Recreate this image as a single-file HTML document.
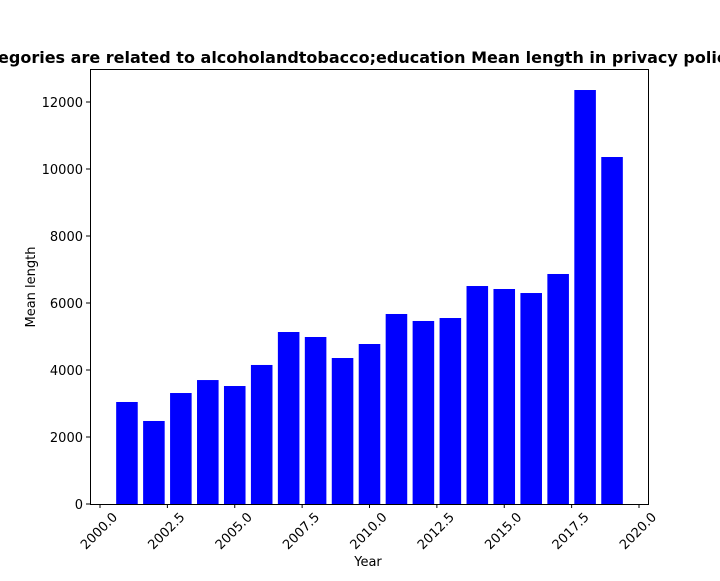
<!DOCTYPE html>
<html><head><meta charset="utf-8"><style>
body{margin:0;background:#fff;width:720px;height:576px;overflow:hidden}
svg text{font-family:"DejaVu Sans","Liberation Sans",sans-serif}
</style></head><body>
<svg id="chart" width="720" height="576">
<text x="360" y="63" text-anchor="middle" font-size="16" font-weight="bold">Categories are related to alcoholandtobacco;education Mean length in privacy policies</text>
<g id="bars"></g>
<rect x="90.5" y="69.5" width="558" height="435" fill="none" stroke="#000" stroke-width="1"/>
<g id="xt"></g><g id="yt"></g>
<text x="368" y="566" text-anchor="middle" font-size="13">Year</text>
<text transform="translate(35,287) rotate(-90)" text-anchor="middle" font-size="13">Mean length</text>
</svg>
<script>
const years=[2001,2002,2003,2004,2005,2006,2007,2008,2009,2010,2011,2012,2013,2014,2015,2016,2017,2018,2019];
const values=[3045,2478,3313,3700,3522,4150,5134,4985,4358,4776,5672,5463,5552,6507,6418,6298,6866,12358,10358];
const xTicks=[2000,2002.5,2005,2007.5,2010,2012.5,2015,2017.5,2020];
const yTicks=[0,2000,4000,6000,8000,10000,12000];
const NS="http://www.w3.org/2000/svg";
const sx=v=>100+(v-2000)*26.95;
const sy=v=>504-v*0.0335;
const bars=document.getElementById('bars');
years.forEach((y,i)=>{
 const r=document.createElementNS(NS,'rect');
 r.setAttribute('x',sx(y-0.4));r.setAttribute('width',0.8*26.95);
 r.setAttribute('y',sy(values[i]));r.setAttribute('height',504-sy(values[i]));
 r.setAttribute('fill','#0000ff');
 
 
 bars.appendChild(r);
});
const xt=document.getElementById('xt');
xTicks.forEach(t=>{
 const x=sx(t);
 const l=document.createElementNS(NS,'line');
 l.setAttribute('x1',x);l.setAttribute('x2',x);l.setAttribute('y1',504);l.setAttribute('y2',508);l.setAttribute('stroke','#000');
 
 
 xt.appendChild(l);
 const tx=document.createElementNS(NS,'text');
 tx.setAttribute('font-size','13');tx.setAttribute('text-anchor','middle');
 tx.setAttribute('transform',`translate(${x+2},${534}) rotate(-45)`);
 tx.textContent=t.toFixed(1);
 
 
 xt.appendChild(tx);
});
const yt=document.getElementById('yt');
yTicks.forEach(t=>{
 const y=sy(t);
 const l=document.createElementNS(NS,'line');
 l.setAttribute('x1',86);l.setAttribute('x2',90);l.setAttribute('y1',y);l.setAttribute('y2',y);l.setAttribute('stroke','#000');
 
 
 yt.appendChild(l);
 const tx=document.createElementNS(NS,'text');
 tx.setAttribute('font-size','13');tx.setAttribute('text-anchor','end');
 tx.setAttribute('x',83);tx.setAttribute('y',y+5);
 tx.textContent=t;
 
 
 yt.appendChild(tx);
});
</script>
</body></html>
